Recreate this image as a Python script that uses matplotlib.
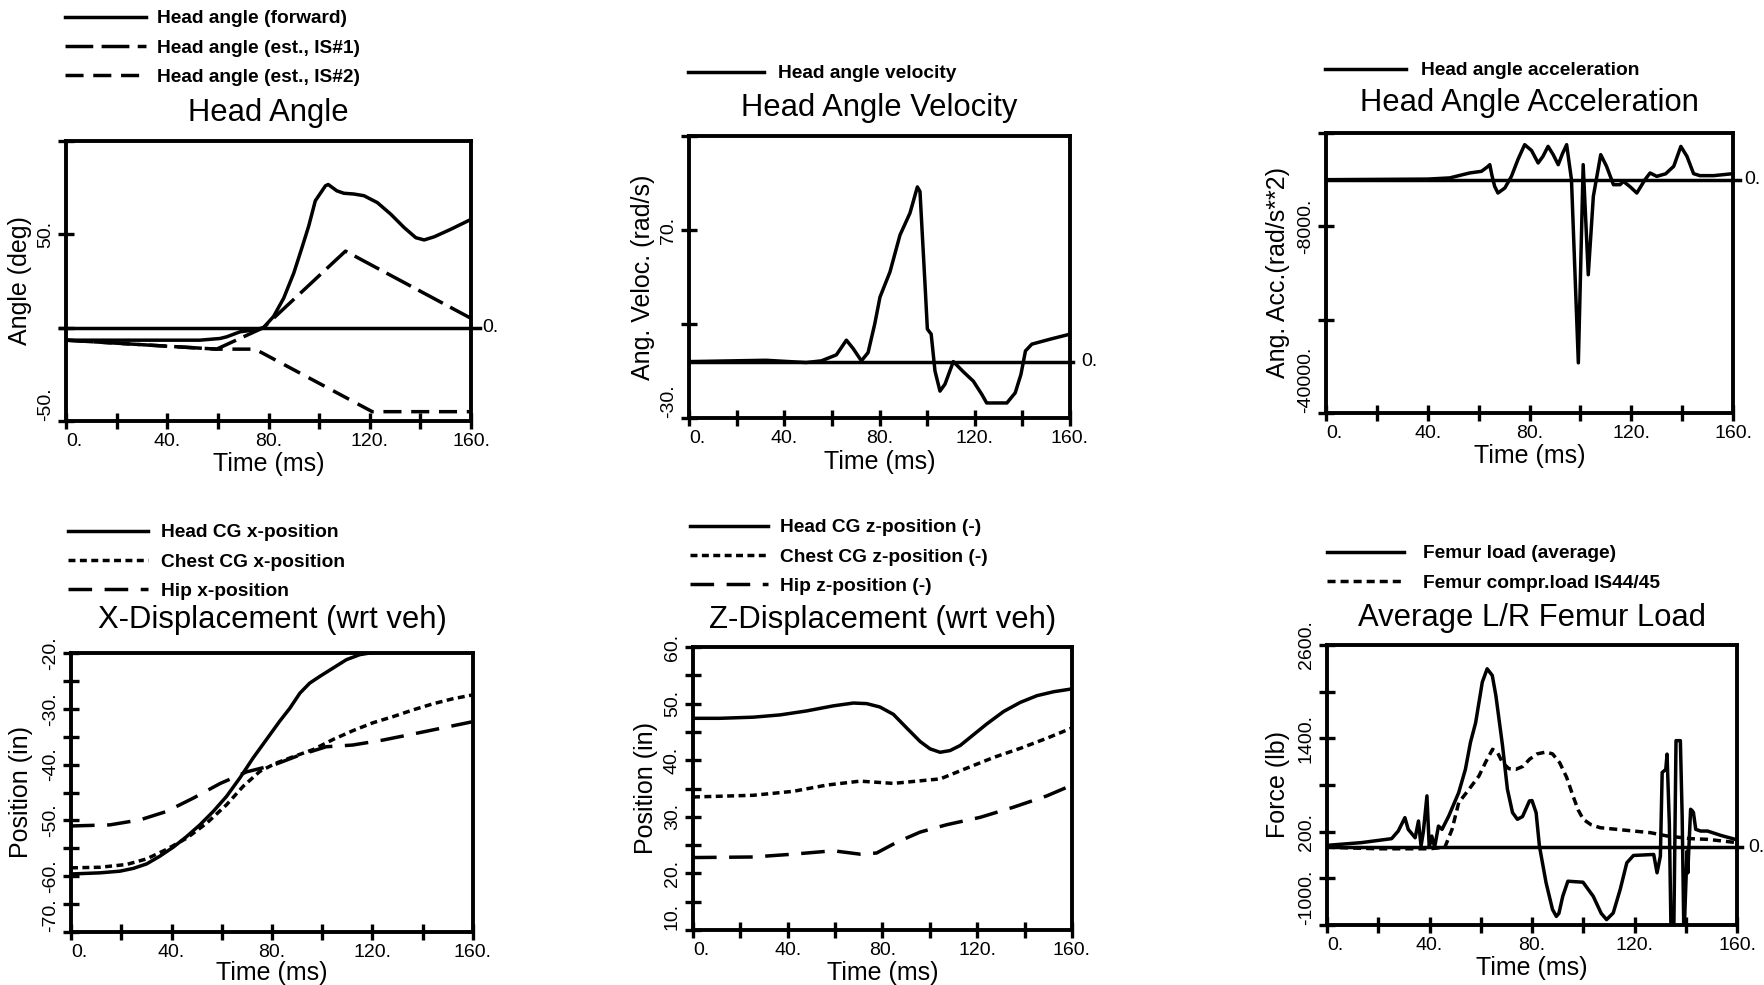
import matplotlib
matplotlib.use("Agg")
import matplotlib.pyplot as plt

# -- figure geometry (pixels) ------------------------------------------------
FIG_W, FIG_H = 1764, 985
DPI = 100

plt.rcParams["font.family"] = ["Liberation Sans", "DejaVu Sans"]
plt.rcParams["lines.scale_dashes"] = False

TIME_TICKS = list(range(0, 161, 20))
TIME_LABELS = ["0.", "", "40.", "", "80.", "", "120.", "", "160."]

# -- Head Angle ---------------------------------------------------------------
t_head_fwd = [0, 20, 40, 52.9, 60.8, 63.5, 68.8, 74, 78, 82, 86, 90, 93.2, 95.9,
              98.5, 102.5, 103.6, 107, 109.8, 113.7, 117.7, 123, 128.3, 133.6,
              138.2, 141.5, 145.5, 152, 160]
head_fwd = [-6.7, -6.7, -6.7, -6.7, -5.8, -4.9, -2.2, -1.3, 0, 6, 15.8, 29.3, 42.8,
            54.5, 68, 76, 76.7, 73.3, 72, 71.6, 70.7, 67, 60.8, 53.6, 48.2, 47,
            48.7, 52.7, 58]
t_head_is1 = [0, 59.5, 78, 110.4, 160]
head_is1 = [-6.7, -11.5, 0, 41, 5]
t_head_is2 = [0, 59.5, 74.7, 121, 160]
head_is2 = [-6.7, -11.5, -11.5, -45, -45]

# -- Head Angle Velocity ------------------------------------------------------
t_vel = [0, 18.3, 32.3, 49.2, 55.6, 61.9, 66.1, 68.9, 72.4, 75.2, 78, 80.2, 84.4,
         88.6, 92.8, 95.9, 97, 99.1, 100.1, 101.7, 103.3, 105.4, 107.5, 111,
         115.2, 119.4, 123, 125, 133.5, 137, 139.4, 141.3, 144, 151.9, 160]
vel = [0, 0.4, 0.7, -0.5, 0.4, 3.6, 11.4, 7, 0.4, 4.8, 20, 34.3, 47.7, 67.3, 79,
       92.9, 90.5, 41.4, 17.3, 14.6, -5, -15.7, -12, 0, -5.4, -10.4, -17.5, -22,
       -22, -16.6, -6.8, 5.7, 9.3, 12, 14.6]

# -- Head Angle Acceleration --------------------------------------------------
t_acc = [0, 40, 48.6, 56.5, 61.1, 63.5, 64.4, 65.2, 66.3, 67.6, 70.3, 72.9, 75.5,
         78.1, 80.8, 83.4, 85.3, 87.3, 89.3, 91.3, 93, 94.6, 96.5, 99.2, 101.1,
         103.1, 105.1, 108, 110.3, 113, 115.6, 116.9, 119.5, 122.2, 125.4, 127.4,
         130, 133.5, 136.7, 139.5, 141.9, 144.5, 147, 152.4, 160]
acc = [0, 100, 300, 1150, 1430, 2200, 2570, 800, -1150, -2290, -1430, 570, 3500,
       6000, 5000, 2860, 4000, 5710, 4300, 2570, 4500, 6000, 0, -31400, 2570,
       -16300, -2860, 4290, 2280, -860, -860, -290, -1200, -2290, 0, 1150, 570,
       1000, 2290, 5700, 4000, 1030, 690, 690, 1030]

# -- X-Displacement -----------------------------------------------------------
t_head_x = [0, 11.5, 19.5, 24.8, 30.1, 35.4, 40.7, 46, 51.3, 56.6, 61.9, 67.2,
            72.5, 77.8, 83.1, 87.1, 91.1, 95, 99, 104.3, 109.6, 114.9, 118.9,
            130, 145, 160]
head_x = [-59.6, -59.4, -59.1, -58.6, -57.8, -56.4, -54.8, -52.9, -50.8, -48.4,
          -45.7, -42.4, -38.8, -35.5, -32.2, -29.9, -27.2, -25.4, -24.2, -22.7,
          -21.2, -20.3, -20, -19, -18, -17]
t_chest_x = [0, 11.5, 22.1, 30.1, 38, 46, 54, 61.9, 68.5, 75.2, 81.8, 88.4, 96.4,
             104.3, 112.3, 120.2, 128.2, 136.1, 144.1, 152, 160]
chest_x = [-58.5, -58.4, -57.9, -56.9, -55.2, -53.2, -50.5, -47.2, -43.9, -41.2,
           -39.7, -38.6, -37.3, -35.5, -33.9, -32.5, -31.4, -30.2, -29.1, -28.2,
           -27.5]
t_hip_x = [0, 15.5, 27.5, 38, 48.7, 59.3, 69.9, 80.5, 91, 101.6, 112, 124.2, 137.4,
           160]
hip_x = [-51, -50.8, -49.9, -48.4, -46, -43.4, -41.3, -40.1, -38.3, -36.8, -36.5,
         -35.6, -34.4, -32.3]

# -- Z-Displacement -----------------------------------------------------------
t_head_z = [0, 11.3, 25.4, 36.7, 47.9, 59.2, 67.7, 73.3, 78.9, 84.6, 90.2, 95.9,
            100.1, 104.3, 108.5, 112.8, 118.4, 124, 131.1, 138.1, 145.2, 152.3, 160]
head_z = [47.4, 47.4, 47.6, 48, 48.7, 49.6, 50.1, 50, 49.4, 48.1, 45.7, 43.3, 42,
          41.4, 41.7, 42.6, 44.5, 46.4, 48.6, 50.2, 51.4, 52.1, 52.6]
t_chest_z = [0, 25.4, 42.3, 56.4, 70.5, 84.6, 104.4, 115.6, 127, 138.2, 149.5, 160]
chest_z = [33.5, 33.8, 34.5, 35.6, 36.3, 35.9, 36.7, 38.6, 40.5, 42.1, 43.9, 45.7]
t_hip_z = [0, 25.4, 42.3, 59.2, 70.5, 77.5, 86, 95.9, 107.1, 121.2, 135.3, 149.4,
           160]
hip_z = [22.8, 22.9, 23.4, 24, 23.4, 23.6, 25.5, 27.3, 28.6, 29.9, 31.7, 33.7, 35.6]

# -- Average L/R Femur Load ---------------------------------------------------
t_femur = [0, 13.4, 25.2, 27.8, 30.4, 31.7, 34.4, 35.7, 36.7, 37.6, 39, 39.9, 40.9,
           42, 43.5, 44.9, 47.5, 51.4, 54, 56, 58, 60.6, 62.5, 64.5, 65.9, 68.5,
           70.4, 72.4, 74.3, 76.3, 79, 80, 81.6, 82.9, 85.5, 88, 89.5, 90.5, 92,
           94, 99.9, 103.9, 107, 109.1, 111.7, 114.4, 117, 119.6, 127.5, 128.8,
           130.1, 130.8, 132.2, 132.7, 133.6, 134.3, 135.3, 136.2, 137.9, 138.6,
           139.3, 139.8, 140.2, 140.5, 140.8, 141.2, 141.9, 142.5, 143, 143.9,
           145.8, 148.5, 153.7, 160]
femur = [24, 59, 110, 208, 380, 230, 122, 337, 14, 200, 660, 0, 143, 0, 272, 230,
         400, 703, 1000, 1350, 1600, 2122, 2294, 2208, 1950, 1305, 746, 445, 359,
         394, 595, 600, 445, 14, -458, -800, -889, -850, -631, -437, -450, -631,
         -850, -931, -845, -545, -200, -106, -93, -329, -115, 961, 1000, 1197, 300,
         -1200, -1200, 1370, 1370, 400, -1200, -700, -329, -50, -330, -20, 488,
         470, 445, 230, 208, 208, 152, 95]
t_femur_is = [0, 20, 40, 46, 48.8, 51.4, 55.4, 59.3, 62, 64.6, 66.5, 68.5, 71,
              73.7, 76.5, 79, 82, 85.5, 88, 90.8, 93.5, 96, 98, 100, 103, 106.6,
              115.7, 126.2, 132.8, 142, 148.5, 160]
femur_is = [0, -20, -20, 0, 230, 573, 744, 916, 1100, 1259, 1220, 1087, 1010, 1001,
            1040, 1130, 1200, 1224, 1200, 1087, 900, 659, 480, 359, 290, 251, 221,
            187, 144, 110, 101, 59]

LW = 2.5
SOLID = "-"
IS1_DASH = (0, (20, 6))
IS2_DASH = (0, (13, 7))
SHORT_DASH = (0, (5, 3.2))
LONG_DASH = (0, (17, 9))
FEMUR_DASH = (0, (5.8, 3.6))

TICK_FS = 14
LABEL_FS = 18
TITLE_FS = 22.3
LEGEND_FS = 13.8

fig = plt.figure(figsize=(FIG_W / DPI, FIG_H / DPI), dpi=DPI)


def add_panel(left, top, right, bottom):
    return fig.add_axes([left / FIG_W, 1 - bottom / FIG_H,
                         (right - left) / FIG_W, (bottom - top) / FIG_H])


def style_panel(ax, ylim, yticks, ylabels, ylabel, title, title_off,
                ylab_x, xlab_y):
    ax.set_xlim(0, 160)
    ax.set_ylim(*ylim)
    ax.set_xticks(TIME_TICKS)
    ax.set_xticklabels(TIME_LABELS, fontsize=TICK_FS)
    ax.set_yticks(yticks)
    ax.set_yticklabels(ylabels, fontsize=TICK_FS, rotation=90, va="center")
    ax.tick_params(direction="inout", length=11.5, width=2.4, pad=3)
    for s in ax.spines.values():
        s.set_linewidth(2.8)
    ax.get_xticklabels()[0].set_ha("left")
    ax.get_yticklabels()[0].set_va("bottom")
    ax.set_xlabel("Time (ms)", fontsize=LABEL_FS, va="top")
    ax.xaxis.set_label_coords(0.5, xlab_y)
    ax.set_ylabel(ylabel, fontsize=LABEL_FS)
    ax.yaxis.set_label_coords(ylab_x, 0.5)
    ax.annotate(title, xy=(0.5, 1), xycoords="axes fraction",
                xytext=(0, title_off * 0.72), textcoords="offset points",
                ha="center", va="center", fontsize=TITLE_FS)


def zero_line(ax, left_ext, right_ext):
    ax.plot([-left_ext, 1 + right_ext], [0, 0], color="k", lw=LW,
            transform=ax.get_yaxis_transform(), clip_on=False)
    ax.annotate("0.", xy=(1, 0), xycoords=ax.get_yaxis_transform(),
                xytext=(8, 0), textcoords="offset points",
                ha="left", va="center", fontsize=TICK_FS)


def panel_legend(ax, x, y, hlen, hpad):
    ax.legend(loc="upper left", bbox_to_anchor=(x / FIG_W, 1 - y / FIG_H),
              bbox_transform=fig.transFigure, frameon=False,
              prop={"weight": "bold", "size": LEGEND_FS}, handlelength=hlen,
              handletextpad=hpad, labelspacing=0.62, borderpad=0,
              borderaxespad=0)


def tick_labels(ticks, shown):
    return [f"{v}." if v in shown else "" for v in ticks]


# ---------------------------------------------------------------------------
# 1. Head Angle
# ---------------------------------------------------------------------------
ax = add_panel(66, 141, 471, 421)
ax.plot(t_head_fwd, head_fwd, color="k", lw=LW, ls=SOLID, label="Head angle (forward)")
ax.plot(t_head_is1, head_is1, color="k", lw=LW, ls=IS1_DASH, label="Head angle (est., IS#1)")
ax.plot(t_head_is2, head_is2, color="k", lw=LW, ls=IS2_DASH, label="Head angle (est., IS#2)")
zero_line(ax, 0.015, 0.022)
ticks = [-50, 0, 50, 100]
style_panel(ax, (-50, 100), ticks, tick_labels(ticks, [-50, 50]), "Angle (deg)",
            "Head Angle", 28, -0.084, -0.11)
panel_legend(ax, 65, 10, 4.2, 0.62)

# ---------------------------------------------------------------------------
# 2. Head Angle Velocity
# ---------------------------------------------------------------------------
ax = add_panel(689, 136, 1070, 418)
ax.plot(t_vel, vel, color="k", lw=LW, label="Head angle velocity")
zero_line(ax, 0, 0.008)
ticks = [-30, 20, 70, 120]
style_panel(ax, (-30, 120), ticks, tick_labels(ticks, [-30, 70]),
            "Ang. Veloc. (rad/s)", "Head Angle Velocity", 28, -0.089, -0.112)
panel_legend(ax, 688, 65, 3.95, 0.74)

# ---------------------------------------------------------------------------
# 3. Head Angle Acceleration
# ---------------------------------------------------------------------------
ax = add_panel(1326, 133, 1733, 413)
ax.plot(t_acc, acc, color="k", lw=LW, label="Head angle acceleration")
zero_line(ax, 0, 0.017)
ticks = [-40000, -24000, -8000, 8000]
style_panel(ax, (-40000, 8000), ticks, tick_labels(ticks, [-40000, -8000]),
            "Ang. Acc.(rad/s**2)", "Head Angle Acceleration", 30, -0.088, -0.112)
panel_legend(ax, 1325, 62, 4.2, 0.79)

# ---------------------------------------------------------------------------
# 4. X-Displacement
# ---------------------------------------------------------------------------
ax = add_panel(71, 653, 473, 932)
ax.plot(t_head_x, head_x, color="k", lw=LW, ls=SOLID, label="Head CG x-position")
ax.plot(t_chest_x, chest_x, color="k", lw=LW, ls=SHORT_DASH, label="Chest CG x-position")
ax.plot(t_hip_x, hip_x, color="k", lw=LW, ls=LONG_DASH, label="Hip x-position")
ticks = list(range(-70, -19, 5))
style_panel(ax, (-70, -20), ticks, tick_labels(ticks, list(range(-70, -19, 10))),
            "Position (in)", "X-Displacement (wrt veh)", 33, -0.095, -0.105)
panel_legend(ax, 68, 524, 4.15, 0.68)

# ---------------------------------------------------------------------------
# 5. Z-Displacement
# ---------------------------------------------------------------------------
ax = add_panel(693, 647, 1072, 930)
ax.plot(t_head_z, head_z, color="k", lw=LW, ls=SOLID, label="Head CG z-position (-)")
ax.plot(t_chest_z, chest_z, color="k", lw=LW, ls=SHORT_DASH, label="Chest CG z-position (-)")
ax.plot(t_hip_z, hip_z, color="k", lw=LW, ls=LONG_DASH, label="Hip z-position (-)")
ticks = list(range(10, 61, 5))
style_panel(ax, (10, 60), ticks, tick_labels(ticks, list(range(10, 61, 10))),
            "Position (in)", "Z-Displacement (wrt veh)", 27, -0.092, -0.108)
panel_legend(ax, 690, 519, 4.05, 0.62)

# ---------------------------------------------------------------------------
# 6. Average L/R Femur Load
# ---------------------------------------------------------------------------
ax = add_panel(1327, 645, 1737, 925)
ax.plot(t_femur, femur, color="k", lw=LW, ls=SOLID, label="Femur load (average)")
ax.plot(t_femur_is, femur_is, color="k", lw=LW, ls=FEMUR_DASH,
        label="Femur compr.load IS44/45")
zero_line(ax, 0, 0.012)
ticks = list(range(-1000, 2601, 600))
style_panel(ax, (-1000, 2600), ticks, tick_labels(ticks, [-1000, 200, 1400, 2600]),
            "Force (lb)", "Average L/R Femur Load", 27, -0.09, -0.112)
panel_legend(ax, 1327, 545, 4.0, 1.0)

fig.savefig("out.png", dpi=DPI)
